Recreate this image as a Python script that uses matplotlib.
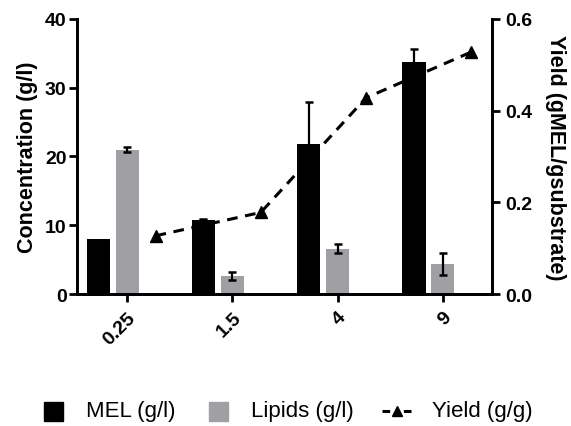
import matplotlib
matplotlib.use('Agg')
import matplotlib.pyplot as plt
import matplotlib.patches as mpatches
from matplotlib.lines import Line2D
import numpy as np

plt.rcParams['font.family'] = ['Liberation Sans', 'DejaVu Sans']

# substrate feed (x categories)
feeds = ['0.25', '1.5', '4', '9']
mel = [8.0, 10.8, 21.8, 33.7]
mel_err = [np.nan, 0.1, 6.1, 1.9]
lipids = [21.0, 2.6, 6.6, 4.4]
lipids_err = [0.4, 0.6, 0.7, 1.6]
yield_gg = [0.127, 0.178, 0.428, 0.528]

gray = '#a0a0a4'
x = np.arange(len(feeds))
w = 0.22

fig = plt.figure(figsize=(5.71, 4.27), dpi=100)
ax = fig.add_axes([0.1349, 0.3091, 0.7268, 0.6441])
ax2 = ax.twinx()

ax.bar(x - 0.275, mel, w, color='black', zorder=2)
ax.errorbar(x - 0.275, mel, yerr=mel_err, fmt='none', ecolor='black',
            elinewidth=1.6, capsize=2.8, capthick=1.8, zorder=3)
ax.bar(x, lipids, w, color=gray, zorder=2)
ax.errorbar(x, lipids, yerr=lipids_err, fmt='none', ecolor='black',
            elinewidth=1.6, capsize=2.8, capthick=1.8, zorder=3)

ax2.plot(x + 0.27, yield_gg, color='black', lw=2.2, dashes=(3.5, 2.5),
         marker='^', ms=8.5, zorder=4)

ax.set_xlim(-0.476, 3.467)
ax.set_ylim(0, 40)
ax2.set_ylim(0, 0.6)
ax.set_yticks([0, 10, 20, 30, 40])
ax2.set_yticks([0, 0.2, 0.4, 0.6])
ax2.set_yticklabels(['0.0', '0.2', '0.4', '0.6'])
ax.set_xticks(x)
ax.set_xticklabels(feeds, rotation=45, ha='right', va='top',
                   rotation_mode='anchor')

for a in (ax, ax2):
    a.spines['top'].set_visible(False)
    for s in a.spines.values():
        s.set_linewidth(2)
    a.tick_params(width=2, length=5.5, labelsize=14)
    for lab in a.get_xticklabels() + a.get_yticklabels():
        lab.set_fontweight('bold')
ax.tick_params(axis='x', pad=5)
ax.tick_params(axis='y', pad=2)
ax2.tick_params(axis='y', pad=4)
ax2.set_zorder(ax.get_zorder() + 1)
ax2.patch.set_visible(False)

ax.set_ylabel('Concentration (g/l)', fontsize=15.5, fontweight='bold', labelpad=5)
ax2.set_ylabel('Yield (gMEL/gsubstrate)', fontsize=15.5, fontweight='bold',
               rotation=270, labelpad=24)

# legend row along the bottom
W, H = 571, 427
ly = 1 - 412 / H
sq = 19
fig.add_artist(mpatches.Rectangle((44 / W, ly - sq / 2 / H), sq / W, sq / H,
                                  color='black', transform=fig.transFigure))
fig.text(86 / W, ly, 'MEL (g/l)', fontsize=16, va='center', ha='left')
fig.add_artist(mpatches.Rectangle((209 / W, ly - sq / 2 / H), sq / W, sq / H,
                                  color=gray, transform=fig.transFigure))
fig.text(251 / W, ly, 'Lipids (g/l)', fontsize=16, va='center', ha='left')
fig.add_artist(Line2D([382 / W, 412 / W], [ly, ly], color='black', lw=2.2,
                      dashes=(2.5, 4.5), transform=fig.transFigure))
fig.add_artist(Line2D([397 / W], [ly], color='black', marker='^', ms=7,
                      transform=fig.transFigure))
fig.text(432 / W, ly, 'Yield (g/g)', fontsize=16, va='center', ha='left')

fig.savefig('out.png', dpi=100)
